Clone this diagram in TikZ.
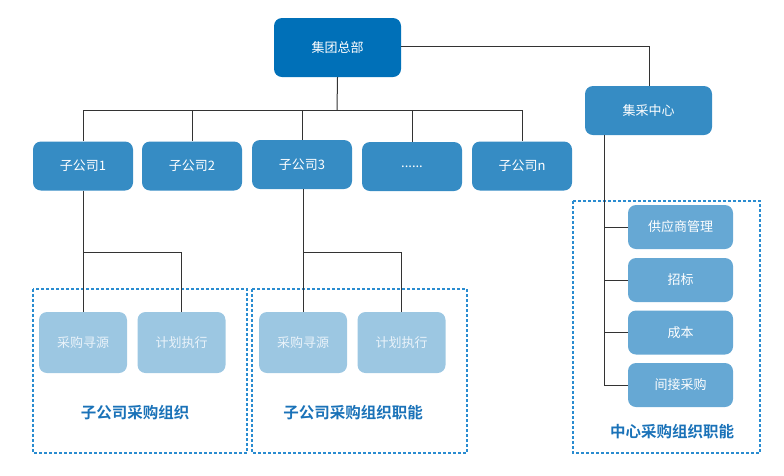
\documentclass[tikz,border=0pt]{standalone}
\usepackage{fontspec}
\setmainfont{Noto Sans CJK SC}[BoldFont={Noto Sans CJK SC Bold}]
\newfontfamily\cjkfont{Noto Sans CJK SC}[BoldFont={Noto Sans CJK SC Bold}]
\definecolor{hqblue}{HTML}{0070B8}
\definecolor{midblue}{HTML}{368CC4}
\definecolor{rightblue}{HTML}{66A8D4}
\definecolor{lightblue}{HTML}{9CC7E2}
\definecolor{lighttext}{HTML}{EAF3FA}
\definecolor{labelblue}{HTML}{1A72B8}
\definecolor{dashblue}{HTML}{2A8CD0}
\definecolor{linegray}{HTML}{333333}
\tikzset{
  box/.style={rounded corners=8pt, draw=none, text=white, font=\cjkfont\fontsize{13}{15}\selectfont, inner sep=0pt, align=center},
  hqbox/.style={box, fill=hqblue, minimum width=127pt, minimum height=59pt},
  subbox/.style={box, fill=midblue, minimum width=100pt, minimum height=49pt},
  jcbox/.style={box, fill=midblue, minimum width=127pt, minimum height=49pt},
  funcbox/.style={box, fill=rightblue, minimum width=105pt, minimum height=44pt},
  lightbox/.style={box, fill=lightblue, text=lighttext, minimum width=88pt, minimum height=61pt},
  conn/.style={draw=linegray, line width=1pt},
  dashbox/.style={draw=dashblue, line width=1.1pt, dash pattern=on 3pt off 2pt},
  grouplabel/.style={text=labelblue, font=\cjkfont\bfseries\fontsize{15.5}{18}\selectfont, inner sep=0pt}
}
\begin{document}
\begin{tikzpicture}[x=1pt,y=-1pt]
\useasboundingbox (0,0) rectangle (784,475);
% dashed group boxes
\draw[dashbox] (33,289) rectangle (247,453);
\draw[dashbox] (252,289) rectangle (467,453);
\draw[dashbox] (573,201) rectangle (760,453);
% nodes
\node[hqbox] (hq) at (337.5,47.5) {集团总部};
\node[jcbox] (jc) at (648.5,110.5) {集采中心};
\node[subbox] (s1) at (83,166) {子公司1};
\node[subbox] (s2) at (192,166) {子公司2};
\node[subbox] (s3) at (302,164.5) {子公司3};
\node[subbox] (s4) at (412,166.5) {......};
\node[subbox] (sn) at (522,166) {子公司n};
\node[lightbox] (a1) at (83,342.5) {采购寻源};
\node[lightbox] (b1) at (181.5,342.5) {计划执行};
\node[lightbox] (a2) at (303,342.5) {采购寻源};
\node[lightbox] (b2) at (401.5,342.5) {计划执行};
\node[funcbox] (f1) at (680.5,227) {供应商管理};
\node[funcbox] (f2) at (680.5,280) {招标};
\node[funcbox] (f3) at (680.5,332.5) {成本};
\node[funcbox] (f4) at (680.5,385) {间接采购};
% labels
\node[grouplabel] (l1) at (135,413) {子公司采购组织};
\node[grouplabel] (l2) at (353,413) {子公司采购组织职能};
\node[grouplabel] (l3) at (672,432) {中心采购组织职能};
% coordinates
\coordinate (bus) at (337,110);
\coordinate (busL) at (83,110);
\coordinate (busR) at (522,110);
\coordinate (jcturn) at (649,46);
% connectors
\draw[conn] (hq.south) -- (bus);
\draw[conn] (busL) -- (busR);
\draw[conn] (busL) -- (s1.north);
\draw[conn] (s2.north |- bus) -- (s2.north);
\draw[conn] (s3.north |- bus) -- (s3.north);
\draw[conn] (s4.north |- bus) -- (s4.north);
\draw[conn] (busR) -- (sn.north);
\draw[conn] (hq.east |- jcturn) -- (jcturn) -- (jcturn |- jc.north);
% subsidiary 1
\coordinate (t1) at (83,252);
\draw[conn] (s1.south) -- (a1.north);
\draw[conn] (t1) -| (b1.north);
% subsidiary 3
\coordinate (t3) at (303,252);
\draw[conn] (s3.south -| t3) -- (a2.north);
\draw[conn] (t3) -| (b2.north);
% centre functions
\coordinate (jcdrop) at (604,135);
\draw[conn] (jc.south -| jcdrop) -- (jcdrop |- f4.west);
\draw[conn] (jcdrop |- f1.west) -- (f1.west);
\draw[conn] (jcdrop |- f2.west) -- (f2.west);
\draw[conn] (jcdrop |- f3.west) -- (f3.west);
\draw[conn] (jcdrop |- f4.west) -- (f4.west);
\end{tikzpicture}
\end{document}
